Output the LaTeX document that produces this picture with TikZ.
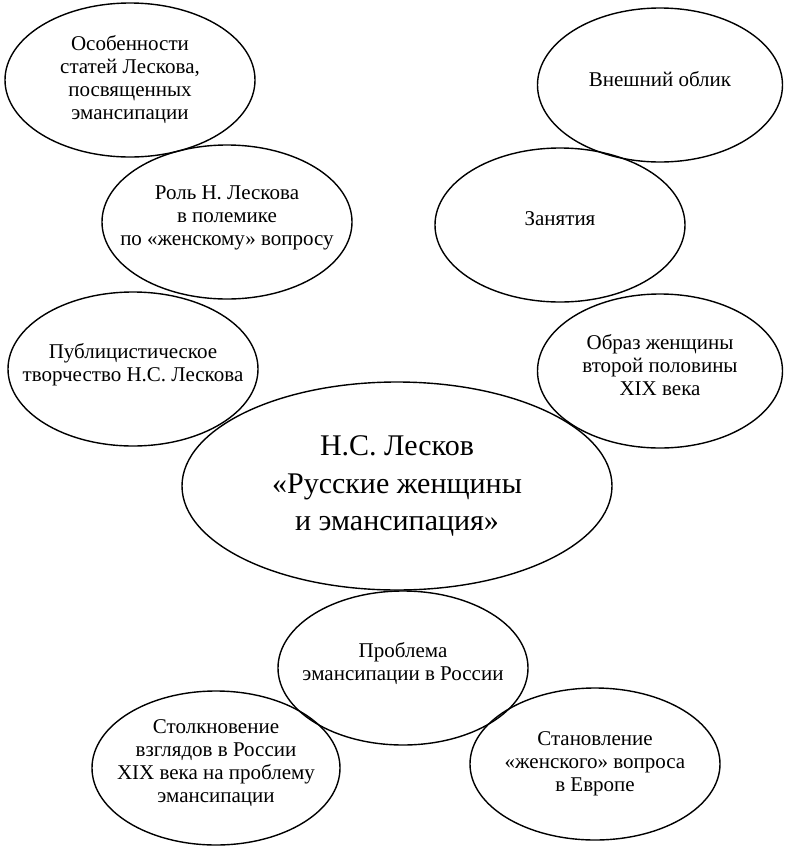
\documentclass[tikz,border=0pt]{standalone}
\usepackage{fontspec}
\setmainfont{Liberation Serif}
\usetikzlibrary{shapes.geometric}
\begin{document}
\begin{tikzpicture}[x=1pt, y=-1pt,
    bubble/.style={draw, line width=1.4pt, ellipse, inner xsep=-30pt, inner ysep=0pt,
      minimum width=250pt, minimum height=154pt, align=center,
      font=\fontsize{21}{23}\selectfont},
    raised/.style={text depth=13pt},
    mainbubble/.style={bubble, minimum width=430pt, minimum height=208pt,
      font=\fontsize{30}{37.5}\selectfont}]
    \useasboundingbox (0,0) rectangle (785,847);
    % left column
    \node[bubble] (osob) at (130,80) {Особенности\\статей Лескова,\\посвященных\\эмансипации};
    \node[bubble, raised] (rol) at (227,222) {Роль Н. Лескова\\в полемике\\по «женскому» вопросу};
    \node[bubble, raised] (publ) at (133,369) {Публицистическое\\творчество Н.С. Лескова};
    % right column
    \node[bubble, raised, minimum width=245pt] (oblik) at (660,85) {Внешний облик};
    \node[bubble, raised] (zan) at (560,225) {Занятия};
    \node[bubble, raised, minimum width=245pt] (obraz) at (660,371) {Образ женщины\\второй половины\\XIX века};
    % centre
    \node[mainbubble] (lesk) at (397,486) {Н.С. Лесков\\«Русские женщины\\и эмансипация»};
    % bottom
    \node[bubble, raised] (probl) at (403,668) {Проблема\\эмансипации в России};
    \node[bubble, raised, minimum width=248pt] (stolk) at (216,768) {Столкновение\\взглядов в России\\XIX века на проблему\\эмансипации};
    \node[bubble, minimum height=152pt] (stan) at (595,764) {Становление\\«женского» вопроса\\в Европе};
\end{tikzpicture}
\end{document}
